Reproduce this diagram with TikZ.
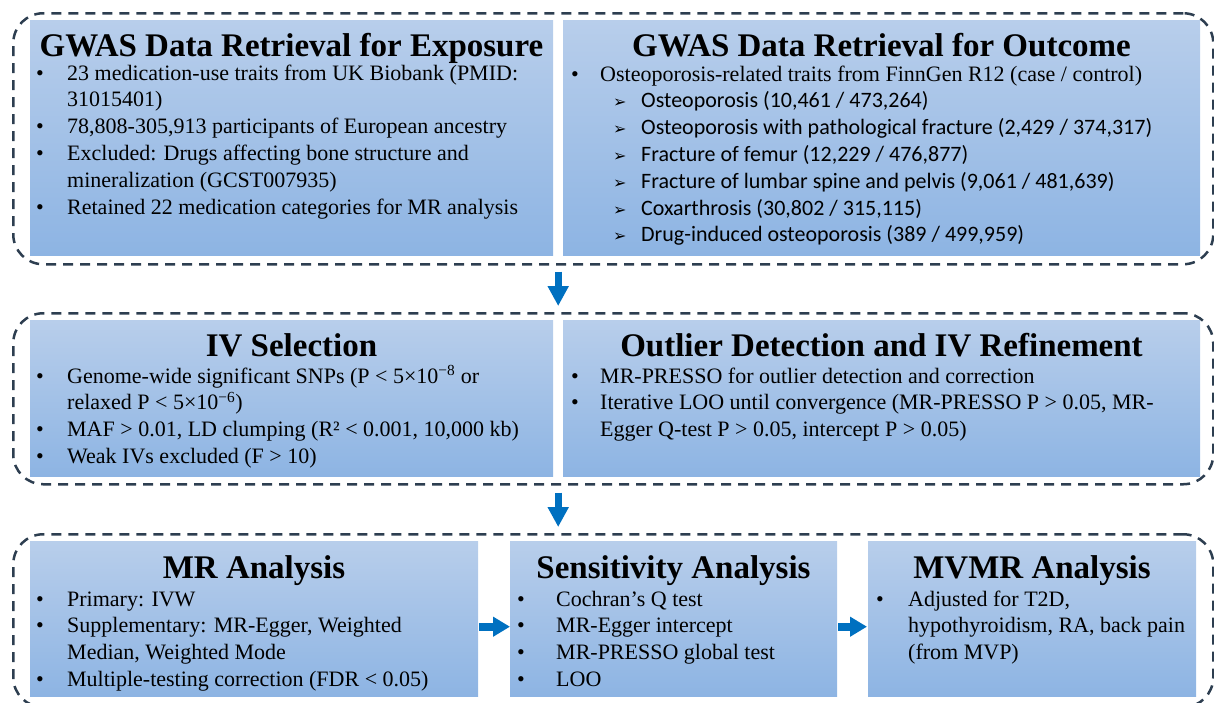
\documentclass[tikz,border=0pt]{standalone}
\usepackage{fontspec}
\setmainfont{Liberation Serif}
\newfontfamily\carl{Carlito}
\newfontfamily\djv{DejaVu Sans}
\usetikzlibrary{arrows.meta,calc}
\definecolor{boxtop}{RGB}{184,206,235}
\definecolor{boxbot}{RGB}{141,180,227}
\definecolor{dashc}{RGB}{45,62,80}
\definecolor{arrc}{RGB}{0,112,192}
\newlength{\bind}
\newcommand{\nl}{\hfil\break}
\newcommand{\bitem}[1]{\par\noindent\hangindent=\bind\hangafter=1\makebox[\bind][l]{\textbullet}#1}
\newcommand{\sitem}[1]{\par\noindent\hspace*{42pt}\makebox[28pt][l]{\djv\fontsize{16}{16}\selectfont ➢}{\carl #1}}
\newcommand{\btext}[2]{\parbox[t]{660pt}{\fontsize{22}{26.8}\selectfont\parindent=0pt\setlength{\bind}{#1}#2\par}}
\tikzset{
  outer/.style={draw=dashc, line width=2.5pt, dash pattern=on 10pt off 7pt, rounded corners=30pt, anchor=north west, inner sep=0pt},
  stepbox/.style={top color=boxtop, bottom color=boxbot, draw=none, anchor=north west, inner sep=0pt},
  ttl/.style={anchor=base, inner sep=0pt, font=\fontsize{33}{37}\selectfont\bfseries},
  body/.style={anchor=base west, inner sep=0pt},
  bigarrow/.style={draw=arrc, line width=7pt, -{Triangle[width=20pt,length=20pt]}},
  sidearrow/.style={draw=arrc, line width=8pt, -{Triangle[width=19pt,length=17pt]}}
}
\begin{document}
\begin{tikzpicture}[x=1pt,y=-1pt]
\useasboundingbox (0,0) rectangle (1214,702);
% outer dashed groups
\node[outer, minimum width=1200pt, minimum height=251pt] (row1) at (12,12) {};
\node[outer, minimum width=1200pt, minimum height=171pt] (row2) at (12,312) {};
\node[outer, minimum width=1200pt, minimum height=173pt] (row3) at (12,533) {};
% boxes
\node[stepbox, minimum width=523pt, minimum height=235pt] (b1) at (30,20) {};
\node[stepbox, minimum width=637pt, minimum height=235pt] (b2) at (563,20) {};
\node[stepbox, minimum width=523pt, minimum height=156pt] (b3) at (30,320) {};
\node[stepbox, minimum width=637pt, minimum height=156pt] (b4) at (563,320) {};
\node[stepbox, minimum width=448pt, minimum height=155pt] (b5) at (30,541) {};
\node[stepbox, minimum width=327pt, minimum height=155pt] (b6) at (510,541) {};
\node[stepbox, minimum width=328pt, minimum height=155pt] (b7) at (868,541) {};
% titles
\node[ttl] (h1) at (291.5,56) {GWAS Data Retrieval for Exposure};
\node[ttl] (h2) at (881.5,56) {GWAS Data Retrieval for Outcome};
\node[ttl] (h3) at (291.5,356) {IV Selection};
\node[ttl] (h4) at (881.5,356) {Outlier Detection and IV Refinement};
\node[ttl] (h5) at (254,578) {MR Analysis};
\node[ttl] (h6) at (673.5,578) {Sensitivity Analysis};
\node[ttl] (h7) at (1032,578) {MVMR Analysis};
% bodies
\node[body] (t1) at (36,80) {\btext{31pt}{%
\bitem{23 medication-use traits from UK Biobank (PMID:\nl 31015401)}
\bitem{78,808-305,913 participants of European ancestry}
\bitem{Excluded: Drugs affecting bone structure and\nl mineralization (GCST007935)}
\bitem{Retained 22 medication categories for MR analysis}}};
\node[body] (t2) at (571,81) {\btext{29pt}{%
\bitem{Osteoporosis-related traits from FinnGen R12 (case / control)}
\sitem{Osteoporosis (10,461 / 473,264)}
\sitem{Osteoporosis with pathological fracture (2,429 / 374,317)}
\sitem{Fracture of femur (12,229 / 476,877)}
\sitem{Fracture of lumbar spine and pelvis (9,061 / 481,639)}
\sitem{Coxarthrosis (30,802 / 315,115)}
\sitem{Drug-induced osteoporosis (389 / 499,959)}}};
\node[body] (t3) at (36,383) {\btext{31pt}{%
\bitem{Genome-wide significant SNPs (P < 5×10\textsuperscript{−8} or\nl relaxed P < 5×10\textsuperscript{−6})}
\bitem{MAF > 0.01, LD clumping (R² < 0.001, 10,000 kb)}
\bitem{Weak IVs excluded (F > 10)}}};
\node[body] (t4) at (571,383) {\btext{29pt}{%
\bitem{MR-PRESSO for outlier detection and correction}
\bitem{Iterative LOO until convergence (MR-PRESSO P > 0.05, MR-\nl Egger Q-test P > 0.05, intercept P > 0.05)}}};
\node[body] (t5) at (36,606) {\btext{31pt}{%
\bitem{Primary: IVW}
\bitem{Supplementary: MR-Egger, Weighted\nl Median, Weighted Mode}
\bitem{Multiple-testing correction (FDR < 0.05)}}};
\node[body] (t6) at (517,606) {\btext{39pt}{%
\bitem{Cochran’s Q test}
\bitem{MR-Egger intercept}
\bitem{MR-PRESSO global test}
\bitem{LOO}}};
\node[body] (t7) at (876,606) {\btext{32pt}{%
\bitem{Adjusted for T2D,\nl hypothyroidism, RA, back pain\nl (from MVP)}}};
% connectors
\coordinate (g1) at ($(b1.south east)!0.5!(b2.south west)$);
\coordinate (g2) at ($(b3.south east)!0.5!(b4.south west)$);
\draw[bigarrow] ($(g1 |- row1.south)+(0,6)$) -- ($(g1 |- row2.north)+(0,-6)$);
\draw[bigarrow] ($(g2 |- row2.south)+(0,7)$) -- ($(g2 |- row3.north)+(0,-6)$);
\draw[sidearrow] ($(b5.east)+(1,8)$) -- ($(b6.west)+(0,8)$);
\draw[sidearrow] ($(b6.east)+(1,8)$) -- ($(b7.west)+(-1,8)$);
\end{tikzpicture}
\end{document}
